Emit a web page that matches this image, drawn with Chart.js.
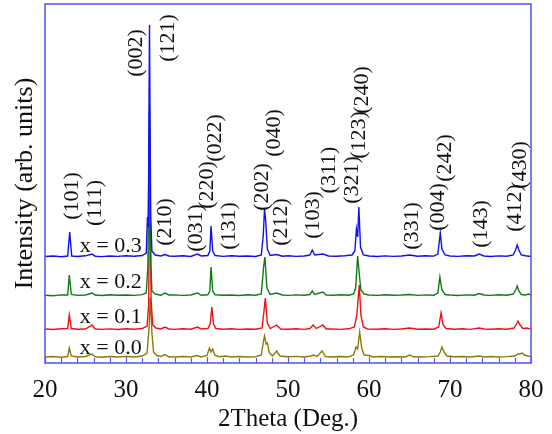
<!DOCTYPE html>
<html>
<head>
<meta charset="utf-8">
<script src="https://cdn.jsdelivr.net/npm/chart.js@4.4.1/dist/chart.umd.min.js"></script>
<style>
  html, body { margin: 0; padding: 0; background: #fff; }
  #wrap { width: 552px; height: 434px; }
</style>
</head>
<body>
<div id="wrap"><canvas id="myChart" width="552" height="434"></canvas></div>
<script>
'use strict';

// sample names and vertical offsets of the stacked patterns
var samples = ['x = 0.3', 'x = 0.2', 'x = 0.1', 'x = 0.0'];
var offsets = [106, 67, 33, 5];

// [2theta, intensity above own baseline]
var pattern03 = [[20,0.5],[21,1],[22,0.3],[22.8,1],[23.05,25],[23.3,1],[24,0.5],[25,1.2],[25.8,3],[26.2,0.8],[27,0.4],[28,1],[29,0.6],[30,1.3],[31,0.8],[32,1.5],[32.5,4],[32.65,40],[32.75,30],[32.9,232],[33.05,40],[33.2,6],[33.6,2],[34.3,1],[34.8,2.5],[35.3,1],[36,0.7],[37,1.2],[38,0.5],[38.8,3],[39.3,1],[40.1,1.5],[40.35,6],[40.5,31],[40.7,6],[41,1.5],[42,0.6],[43,1.2],[44,0.8],[45,1],[46,0.5],[46.7,2],[46.95,22],[47.1,48],[47.25,36],[47.45,8],[47.8,1.5],[48.6,2.5],[49.3,0.8],[50,1.2],[51,0.6],[52,1],[52.7,2],[53,7],[53.3,2],[54.3,3],[55,1],[56,0.7],[57,1.2],[57.9,2],[58.25,6],[58.45,28],[58.6,20],[58.75,50],[58.95,10],[59.3,2],[60,1],[61,0.5],[62,1.1],[63,0.6],[64,1],[65,2],[66,0.8],[67,1.2],[68,0.9],[68.5,3],[68.8,24],[69,8],[69.4,2],[70,1],[71,0.6],[72,1.2],[73,1],[73.6,3],[74.2,1],[75,0.5],[76,1.1],[77,0.8],[77.8,2],[78.1,7],[78.3,12],[78.5,7],[78.8,2],[79.3,1.2],[80,0.5]];
var pattern02 = [[20,0.8],[21,0.3],[22,1.1],[22.8,1],[23,21],[23.25,1.5],[24,0.6],[25,1],[25.8,3],[26.2,1],[27,0.5],[28,1.2],[29,0.7],[30,1],[31,0.6],[32,1.4],[32.5,3],[32.7,30],[32.9,186],[33.05,35],[33.2,5],[33.6,2],[34.3,0.8],[34.8,3],[35.3,1],[36,1.1],[37,0.6],[38,1],[38.8,3],[39.3,0.7],[40.1,1.2],[40.35,5],[40.5,29],[40.7,5],[41,1.3],[42,0.8],[43,1],[44,0.5],[45,1.2],[46,0.7],[46.7,2],[47,30],[47.15,39],[47.4,8],[47.8,1.5],[48.6,3],[49.3,1],[50,0.6],[51,1.1],[52,0.7],[52.7,1.5],[53,5],[53.3,1.5],[54.3,4],[54.7,1],[55.5,0.8],[56.5,1.2],[57.5,0.7],[58.1,2],[58.35,8],[58.6,40],[58.8,22],[59,6],[59.4,2],[60,1],[61,0.6],[62,1.2],[63,0.8],[64,1],[65,1.5],[66,0.6],[67,1.1],[68,0.7],[68.5,3],[68.75,19],[69,6],[69.4,1.5],[70,1],[71,0.5],[72,1.1],[73,0.8],[73.6,2.5],[74.2,1],[75,0.6],[76,1.2],[77,0.7],[77.8,2],[78.1,6],[78.3,10],[78.5,5],[78.8,1.5],[79.3,1],[79.7,2],[80,1]];
var pattern01 = [[20,1],[21,0.5],[22,1.2],[22.8,1.5],[23,15],[23.25,1.5],[24,0.8],[25,1],[25.8,5],[26.2,1],[27,0.6],[28,1.1],[29,0.5],[30,1.2],[31,0.8],[32,1.5],[32.6,4],[32.8,25],[32.95,179],[33.1,30],[33.3,5],[33.7,2],[34.3,1],[34.8,3],[35.3,1],[36,0.6],[37,1.2],[38,0.8],[38.8,3],[39.3,1],[40.1,1.5],[40.4,6],[40.6,23],[40.8,6],[41.1,1.5],[42,0.7],[43,1.2],[44,0.6],[45,1],[46,0.8],[46.8,2],[47.05,20],[47.2,32],[47.45,7],[47.8,1.5],[48.6,5],[49.1,1],[50,0.7],[51,1.2],[52,0.6],[52.7,1.5],[53.1,5],[53.5,1.5],[54.3,5],[54.7,1],[55.5,1],[56.5,0.6],[57.5,1.2],[58.2,3],[58.5,15],[58.8,45],[59,15],[59.3,3],[59.8,1],[61,0.8],[62,1.2],[63,0.6],[64,1],[65,2],[66,0.7],[67,1],[68,0.8],[68.6,3],[68.9,17],[69.15,5],[69.5,1.5],[70.5,0.8],[71.5,1.2],[72.5,0.6],[73.6,2],[74.2,1],[75,0.7],[76,1.2],[77,0.8],[77.9,2],[78.2,6],[78.4,9],[78.65,5],[79,1.5],[79.5,2],[80,0.8]];
var pattern00 = [[20,1],[21,1.5],[22,0.8],[22.8,1.5],[23,10],[23.25,2],[24,1],[25,1.5],[25.8,4],[26.2,1.2],[27,0.8],[28,1.5],[29,1],[30,1.6],[31,1],[32,2],[32.6,5],[32.85,30],[33,60],[33.2,25],[33.4,6],[33.8,2.5],[34.3,1.5],[34.8,3.5],[35.3,1.2],[36,1],[37,1.5],[38,1],[38.8,2.5],[39.3,1],[40,2.5],[40.3,10],[40.5,6],[40.7,9],[40.95,3],[41.5,1.2],[42.3,2],[43,1],[44,1.5],[45,1],[46,1.3],[46.7,3],[47,18],[47.1,22],[47.3,14],[47.45,15],[47.7,5],[48.1,2],[48.6,7],[49,2],[50,1.2],[51,1.6],[52,1],[52.8,2],[53.2,3],[53.6,1.5],[54.2,7],[54.6,1.5],[55.5,1],[56.5,1.5],[57.5,1.2],[58.1,3],[58.4,11],[58.6,9],[58.85,26],[59.1,10],[59.4,3],[60,2.5],[60.5,1],[61.5,1.5],[62.5,1],[63.5,1.3],[64.5,1],[65,3],[65.5,1.2],[66.5,1],[67.5,1.4],[68.5,2],[68.8,6],[69,11],[69.2,7],[69.6,2],[70.5,1.2],[71.5,1.5],[72.5,1],[73.6,2],[74.2,1],[75,1.5],[76,1],[77,1.4],[78,2],[78.4,4],[78.6,4],[78.9,5],[79.2,3],[79.6,2],[80,1.5]];

// Miller indices and where their labels sit (2theta, height)
var hklNames = ['(101)','(111)','(002)','(121)','(210)','(031)','(220)','(022)','(131)','(202)','(040)','(212)','(103)','(311)','(321)','(123)','(240)','(331)','(004)','(242)','(143)','(412)','(430)'];
var hklX = [23.35, 26.2, 31.2, 35.2, 34.9, 38.65, 40.0, 41.05, 42.7, 46.8, 48.35, 49.2, 53.1, 55.1, 57.9, 58.8, 59.2, 65.3, 68.6, 69.45, 73.8, 78.1, 78.7];
var hklY = [167, 160, 310, 325, 141, 135, 178, 225, 137, 176, 230, 141, 148, 193, 183, 228, 273, 137, 156, 205, 139, 155, 198];

var sampleLabelX = 24.3;
var sampleLabelY = [117, 81, 46, 15];

var colors = ['#1010f0', '#137a13', '#ee1111', '#8c7a08'];
var frameColor = '#5b5bef';
var serif = '"Liberation Serif", "DejaVu Serif", serif';

var patterns = [pattern03, pattern02, pattern01, pattern00];
var datasets = patterns.map(function (p, i) {
	return {
		label: samples[i],
		data: p.map(function (pt) { return { x: pt[0], y: pt[1] + offsets[i] }; }),
		borderColor: colors[i],
		borderWidth: 1.4,
		pointRadius: 0,
		tension: 0,
		fill: false
	};
});

var decorations = {
	id: 'decorations',
	afterDatasetsDraw: function (chart) {
		var ctx = chart.ctx;
		var xs = chart.scales.x, ys = chart.scales.y;
		var a = chart.chartArea;
		ctx.save();
		// frame
		ctx.strokeStyle = frameColor;
		ctx.lineWidth = 1.6;
		ctx.strokeRect(a.left, a.top, a.right - a.left, a.bottom - a.top);
		// inward ticks on the 2theta axis
		ctx.lineWidth = 1.2;
		ctx.beginPath();
		for (var v = xs.min; v <= xs.max; v += 2) {
			var px = Math.round(xs.getPixelForValue(v)) + 0.5;
			ctx.moveTo(px, a.bottom);
			ctx.lineTo(px, a.bottom - (v % 10 === 0 ? 6 : 5));
		}
		ctx.stroke();
		// sample labels
		ctx.fillStyle = '#111';
		ctx.font = '22px ' + serif;
		ctx.textAlign = 'left';
		ctx.textBaseline = 'middle';
		for (var i = 0; i < samples.length; i++) {
			ctx.fillText(samples[i], xs.getPixelForValue(sampleLabelX), ys.getPixelForValue(sampleLabelY[i]));
		}
		// peak indices, rotated
		ctx.font = '22px ' + serif;
		ctx.textAlign = 'center';
		for (var j = 0; j < hklNames.length; j++) {
			ctx.save();
			ctx.translate(xs.getPixelForValue(hklX[j]), ys.getPixelForValue(hklY[j]));
			ctx.rotate(-Math.PI / 2);
			ctx.fillText(hklNames[j], 0, 0);
			ctx.restore();
		}
		ctx.restore();
	}
};

var ctx = document.getElementById('myChart').getContext('2d');
var myChart = new Chart(ctx, {
	type: 'line',
	data: { datasets: datasets },
	options: {
		responsive: false,
		animation: false,
		layout: { padding: { top: 4, right: 21, left: 0, bottom: 0 } },
		plugins: { legend: { display: false }, tooltip: { enabled: false } },
		scales: {
			x: {
				type: 'linear',
				min: 20,
				max: 80,
				grid: { display: false },
				border: { display: false },
				ticks: { stepSize: 10, padding: 4, color: '#111', font: { family: serif, size: 25 } },
				title: { display: true, text: '2Theta (Deg.)', color: '#111', font: { family: serif, size: 25 }, padding: { top: 0, bottom: 0 } },
				afterFit: function (s) { s.height = 71; }
			},
			y: {
				min: 0,
				max: 359,
				grid: { display: false },
				border: { display: false },
				ticks: { display: false },
				title: { display: true, text: 'Intensity (arb. units)', color: '#111', font: { family: serif, size: 26 }, padding: { top: 10, bottom: 0 } },
				afterFit: function (s) { s.width = 45; }
			}
		}
	},
	plugins: [decorations]
});
</script>
</body>
</html>
